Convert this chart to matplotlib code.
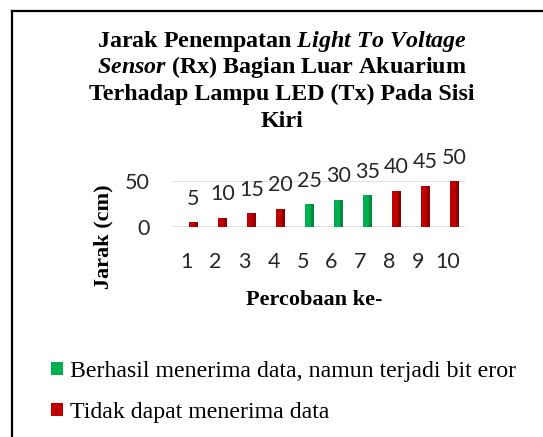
import numpy as np
import matplotlib
matplotlib.use("Agg")
import matplotlib.pyplot as plt
from matplotlib.patches import Patch
from matplotlib.lines import Line2D

# data
percobaan = [1, 2, 3, 4, 5, 6, 7, 8, 9, 10]
jarak = [5, 10, 15, 20, 25, 30, 35, 40, 45, 50]
status = ['gagal', 'gagal', 'gagal', 'gagal', 'eror', 'eror', 'eror', 'gagal', 'gagal', 'gagal']
legend_labels = ['Berhasil menerima data, namun terjadi bit eror', 'Tidak dapat menerima data']

hijau = '#00B050'
merah = '#C00000'
hijau_gelap = '#008A3E'
merah_gelap = '#8E0000'

plt.rcParams['mathtext.fontset'] = 'custom'
plt.rcParams['mathtext.rm'] = 'Liberation Serif:bold'
plt.rcParams['mathtext.bf'] = 'Liberation Serif:bold'
plt.rcParams['mathtext.it'] = 'Liberation Serif:italic:bold'

W, H = 543, 437
fig = plt.figure(figsize=(W/100, H/100), dpi=100)
fig.patch.set_facecolor('white')

ax = fig.add_axes([172/W, 1-227/H, 293/W, 45.5/H])
ax.set_xlim(0.5, 10.6)
ax.set_ylim(0, 50)

x = np.array(percobaan)
y = np.array(jarak)
warna = [hijau if s == 'eror' else merah for s in status]
warna2 = [hijau_gelap if s == 'eror' else merah_gelap for s in status]

# front face + darker side face (fake 3D)
ax.bar(x + 0.20, y, width=0.20, color=warna, zorder=3, linewidth=0)
ax.bar(x + 0.34, y, width=0.08, color=warna2, zorder=3, linewidth=0)

for xi, yi in zip(x, y):
    ax.annotate(str(yi), (xi + 0.24, yi), xytext=(0, 17), textcoords='offset points',
                ha='center', va='center', fontsize=15.5, family='Lato',
                color='#262626', annotation_clip=False)

ax.set_yticks([0, 50])
ax.set_xticks(percobaan)
ax.grid(axis='y', color='#D9D9D9', linewidth=1.2, zorder=0)
for s in ax.spines.values():
    s.set_visible(False)
ax.tick_params(axis='both', length=0, labelsize=15.5, colors='#262626')
ax.tick_params(axis='x', pad=18)
ax.tick_params(axis='y', pad=16)
for lb in ax.get_xticklabels() + ax.get_yticklabels():
    lb.set_family('Lato')

# title (4 lines)
tx = 282/W
fs_judul = 17.3
fig.text(tx, 1-47/H, r'Jarak Penempatan $\mathit{Light\ To\ Voltage}$', ha='center', va='baseline',
         fontsize=fs_judul, family='Liberation Serif', weight='bold')
fig.text(tx, 1-73/H, r'$\mathit{Sensor}$ (Rx) Bagian Luar Akuarium', ha='center', va='baseline',
         fontsize=fs_judul, family='Liberation Serif', weight='bold')
fig.text(tx, 1-100/H, 'Terhadap Lampu LED (Tx) Pada Sisi', ha='center', va='baseline',
         fontsize=fs_judul, family='Liberation Serif', weight='bold')
fig.text(tx, 1-127/H, 'Kiri', ha='center', va='baseline',
         fontsize=fs_judul, family='Liberation Serif', weight='bold')

fig.text(103/W, 1-237/H, 'Jarak (cm)', rotation=90, ha='center', va='center',
         fontsize=16, family='Liberation Serif', weight='bold')
fig.text(314/W, 1-305/H, 'Percobaan ke-', ha='center', va='baseline',
         fontsize=16, family='Liberation Serif', weight='bold')

handles = [Patch(facecolor=hijau, edgecolor='none'), Patch(facecolor=merah, edgecolor='none')]
fig.legend(handles, legend_labels, loc='upper left', bbox_to_anchor=(51/W, 1-361/H),
           frameon=False, prop={'family': 'Liberation Serif', 'size': 17.2},
           handlelength=0.5, handleheight=0.5, handletextpad=0.3,
           labelspacing=0.84, borderpad=0, borderaxespad=0)

# chart border (left and top visible)
fig.add_artist(Line2D([12/W, 12/W], [0, 1-11/H], color='black', linewidth=1.6))
fig.add_artist(Line2D([12/W, 1], [1-11/H, 1-11/H], color='black', linewidth=1.6))

fig.savefig('out.png', dpi=100)
